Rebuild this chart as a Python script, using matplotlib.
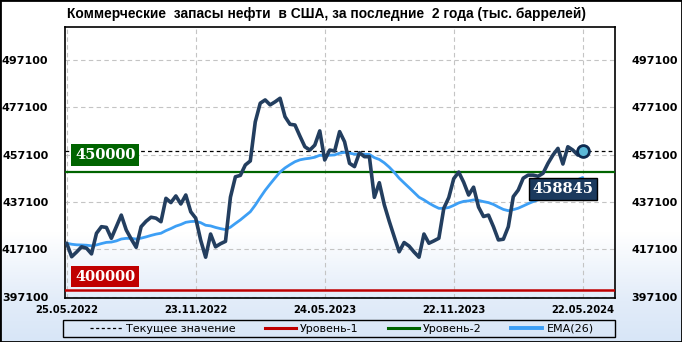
import numpy as np
import pandas as pd
import matplotlib
matplotlib.use("Agg")
import matplotlib.pyplot as plt
from matplotlib.lines import Line2D
from matplotlib.patches import Rectangle
from matplotlib.colors import LinearSegmentedColormap

# ---------------- data ----------------
title = "Коммерческие  запасы нефти  в США, за последние  2 года (тыс. баррелей)"
start_date = "2022-05-25"
stocks = [
    419700, 414000, 416000, 418200, 417600, 415200, 423900, 426700, 426400, 421800,
    426700, 431600, 425300, 421500, 418000, 426700, 429000, 430700, 430300, 428800,
    438700, 436900, 439700, 436300, 440100, 433000, 430300, 421000, 413800, 423600,
    418200, 419500, 420500, 439200, 447800, 448400, 452800, 454500, 471000, 478900,
    480300, 478200, 479500, 481000, 473200, 470000, 469700, 465000, 460500, 459100,
    461200, 467200, 454900, 459100, 458700, 466900, 462600, 453500, 452100, 458000,
    456300, 456300, 439100, 445300, 436000, 429000, 422500, 416100, 420000, 418500,
    416000, 413800, 423600, 419700, 420700, 421800, 434500, 439000, 447000, 449800,
    445500, 440100, 443400, 435000, 431000, 431600, 426700, 421100, 421400, 426700,
    439400, 442200, 447200, 448500, 448500, 448000, 449300, 453500, 457000, 459800,
    453200, 460500, 459100, 457000, 458845,
]
current_value = 458845
level1 = 400000
level2 = 450000
ema_span = 26
y_ticks = [397100, 417100, 437100, 457100, 477100, 497100]
x_tick_labels = ["25.05.2022", "23.11.2022", "24.05.2023", "22.11.2023", "22.05.2024"]
legend_labels = ["Текущее значение", "Уровень-1", "Уровень-2", "EMA(26)"]

dates = pd.date_range(start_date, periods=len(stocks), freq="7D")
series = pd.Series(stocks, index=dates)
ema = series.ewm(span=ema_span, adjust=False).mean()
x_ticks = pd.to_datetime(x_tick_labels, format="%d.%m.%Y")

# ---------------- style ----------------
c_line = "#233e5f"
c_ema = "#3d9ff5"
c_red = "#c00000"
c_green = "#006400"
c_box = "#1b3a5e"

fig = plt.figure(figsize=(6.82, 3.42), dpi=100)

# background gradient
bg = fig.add_axes([0, 0, 1, 1], zorder=-10)
cmap = LinearSegmentedColormap.from_list(
    "bg", [(0.0, "#d8e6f7"), (0.12, "#e2ecf9"), (0.32, "#ffffff"), (1.0, "#ffffff")])
grad = np.linspace(0, 1, 256).reshape(-1, 1)
bg.imshow(grad, aspect="auto", cmap=cmap, origin="lower", extent=[0, 1, 0, 1])
bg.axis("off")

ax = fig.add_axes([65 / 682, 1 - 298 / 342, 550 / 682, 271 / 342])
ax.set_facecolor("none")

# lines
ax.axhline(current_value, color="black", lw=0.9, ls=(0, (3, 2.5)), zorder=3)
ax.axhline(level1, color=c_red, lw=1.8, zorder=3)
ax.axhline(level2, color=c_green, lw=1.6, zorder=3)
ax.plot(ema.index, ema.values, color=c_ema, lw=2.0, zorder=4, solid_capstyle="round")
ax.plot(series.index, series.values, color=c_line, lw=2.6, zorder=5,
        solid_joinstyle="round", solid_capstyle="round")
ax.plot([series.index[-1]], [series.values[-1]], "o", ms=8.5, mfc="#5ab8d8",
        mec="#0d2a50", mew=2, zorder=6)

# axes limits
ax.set_xlim(dates[0] - pd.Timedelta(days=2.4), dates[0] + pd.Timedelta(days=7 * 110.5))
ax.set_ylim(396550, 511130)

ax.set_yticks(y_ticks)
ax.set_yticklabels([str(v) for v in y_ticks])
ax.set_xticks(x_ticks)
ax.set_xticklabels(x_tick_labels)
ax.tick_params(axis="y", length=0, pad=12, labelsize=8, labelright=True, right=False)
ax.tick_params(axis="x", length=0, pad=5, labelsize=7.2)
for lab in ax.get_yticklabels() + ax.get_xticklabels():
    lab.set_fontweight("bold")
for t in ax.yaxis.get_major_ticks():
    t.label2.set_fontweight("bold")
    t.label2.set_fontsize(8)

ax.grid(True, color="#c4c4c4", ls=(0, (4, 3)), lw=0.8)
ax.set_axisbelow(True)
for s in ax.spines.values():
    s.set_color("black")
    s.set_linewidth(1.2)

# level labels
box_font = dict(family="DejaVu Serif", fontweight="bold", fontsize=10.5, color="white")
ax.text(0.073, 0.528, f"{level2}", transform=ax.transAxes, ha="center", va="center",
        bbox=dict(boxstyle="square,pad=0.25", fc=c_green, ec="none"), zorder=7, **box_font)
ax.text(0.073, 0.079, f"{level1}", transform=ax.transAxes, ha="center", va="center",
        bbox=dict(boxstyle="square,pad=0.25", fc=c_red, ec="none"), zorder=7, **box_font)
ax.text(0.906, 0.402, f"{current_value}", transform=ax.transAxes, ha="center", va="center",
        bbox=dict(boxstyle="square,pad=0.25", fc=c_box, ec="black", lw=1), zorder=7, **box_font)

# title
fig.text(0.479, 0.958, title, ha="center", va="center", fontsize=9.9, fontweight="bold",
         family=["Liberation Sans", "DejaVu Sans"])

# legend
handles = [
    Line2D([], [], color="black", lw=0.9, ls=(0, (2.5, 2))),
    Line2D([], [], color=c_red, lw=2.2),
    Line2D([], [], color=c_green, lw=2.2),
    Line2D([], [], color=c_ema, lw=2.8),
]
leg = fig.legend(handles, legend_labels, loc="center", ncol=4,
                 bbox_to_anchor=(342 / 682, 1 - 328.5 / 342),
                 frameon=False, fontsize=8, handlelength=2.8,
                 handletextpad=0.4, columnspacing=2.6, borderpad=0, borderaxespad=0)
fig.patches.append(Rectangle((63 / 682, 1 - 337 / 342), 552 / 682, 17 / 342,
                             transform=fig.transFigure, fill=False, edgecolor="black",
                             lw=1.0, zorder=5))

# figure border
fig.patches.append(Rectangle((0, 0), 1, 1, transform=fig.transFigure, fill=False,
                             edgecolor="black", lw=2, zorder=20))

fig.savefig("out.png", dpi=100)
